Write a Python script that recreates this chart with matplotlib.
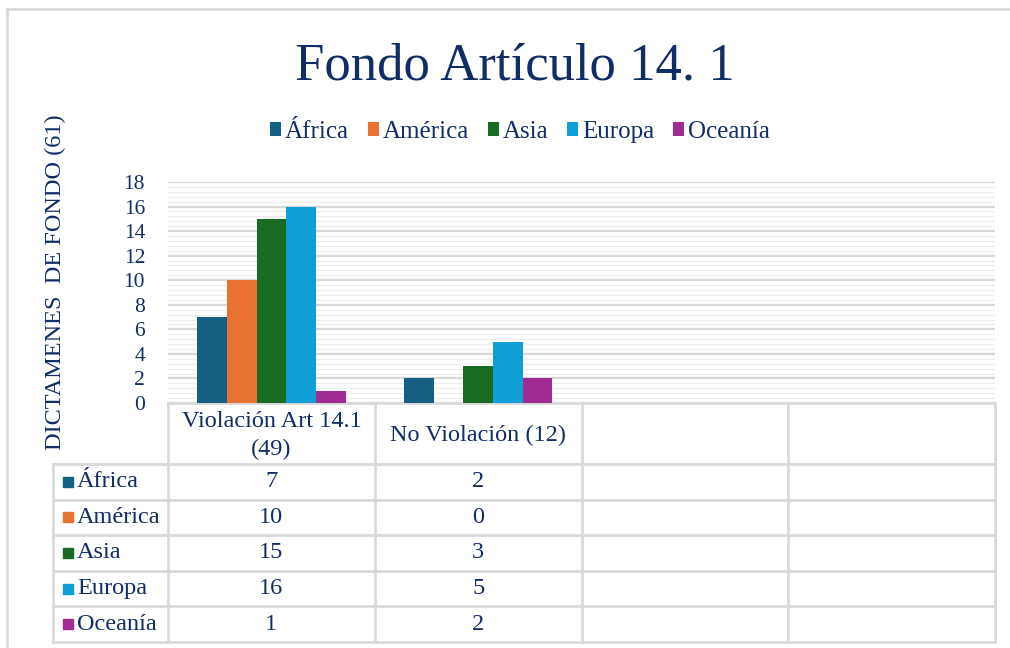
import textwrap
import numpy as np
import matplotlib.pyplot as plt
from matplotlib.ticker import MultipleLocator

## Data
categories = ["Violación Art 14.1 (49)", "No Violación (12)", "", ""]
regions = ["África", "América", "Asia", "Europa", "Oceanía"]
africa = [7, 2, None, None]
america = [10, 0, None, None]
asia = [15, 3, None, None]
europa = [16, 5, None, None]
oceania = [1, 2, None, None]
series = [africa, america, asia, europa, oceania]
colors = ["#156082", "#E97132", "#196B24", "#0F9ED5", "#A02B93"]

TXT = "#112D67"
GRID = "#D9D9D9"
plt.rcParams["font.family"] = ["Liberation Serif", "DejaVu Serif"]

W, H = 1010, 648
fig = plt.figure(figsize=(W / 100, H / 100), dpi=100)

# plot area in pixels
px_left, px_right, px_top, px_bottom = 168, 995, 182, 403
ax = fig.add_axes([px_left / W, 1 - px_bottom / H,
                   (px_right - px_left) / W, (px_bottom - px_top) / H])

n = len(categories)
x = np.arange(n)
bw = 0.1435
for i, (name, vals, c) in enumerate(zip(regions, series, colors)):
  v = np.array([np.nan if a is None else a for a in vals], dtype=float)
  ax.bar(x + (i - 2) * bw, v, width=bw, color=c, label=name, zorder=3)

ax.set_xlim(-0.5, n - 0.5)
ax.set_ylim(0, 18)
ax.set_yticks(np.arange(0, 19, 2))
ax.yaxis.set_minor_locator(MultipleLocator(0.4))
ax.set_xticks([])
ax.grid(which="major", axis="y", color=GRID, lw=1.6, zorder=1)
ax.grid(which="minor", axis="y", color="#EEEEEE", lw=1.0, zorder=0)
ax.set_axisbelow(True)
for s in ax.spines.values():
  s.set_visible(False)
ax.tick_params(axis="y", which="both", length=0, labelsize=15.5, labelcolor=TXT, pad=16.5)

## Title, axis label, legend
fig.text(515 / W, 1 - 80 / H, "Fondo Artículo 14. 1", ha="center", va="baseline",
         fontsize=38, color=TXT)
fig.text(55 / W, 1 - 282 / H, "DICTAMENES  DE FONDO (61)", rotation=90,
         ha="center", va="center", fontsize=17.5, color=TXT)
leg = fig.legend(loc="center", bbox_to_anchor=(520 / W, 1 - 132 / H), ncol=5,
                 fontsize=18, handlelength=0.45, handleheight=0.45, handletextpad=0.15,
                 columnspacing=0.75, frameon=False, labelcolor=TXT)

## Data table
tab = fig.add_axes([0, 0, 1, 1], zorder=-1)
tab.set_xlim(0, W)
tab.set_ylim(H, 0)
tab.axis("off")

tbl_left = 53
col_w = (px_right - px_left) / n
col_edges = [px_left + k * col_w for k in range(n + 1)]
head_bottom = 464
row_h = (642 - head_bottom) / len(regions)
row_edges = [head_bottom + k * row_h for k in range(len(regions) + 1)]
lkw = dict(color=GRID, lw=2, solid_capstyle="projecting")

tab.plot([px_left, px_right], [px_bottom, px_bottom], **lkw)
for y in row_edges:
  tab.plot([tbl_left, px_right], [y, y], **lkw)
tab.plot([tbl_left, tbl_left], [head_bottom, row_edges[-1]], **lkw)
for xe in col_edges:
  tab.plot([xe, xe], [px_bottom, row_edges[-1]], **lkw)

for k, cat in enumerate(categories):
  cx = (col_edges[k] + col_edges[k + 1]) / 2
  tab.text(cx, (px_bottom + head_bottom) / 2 + 2, "\n".join(textwrap.wrap(cat, 18)),
           ha="center", va="center", fontsize=17.5, color=TXT, linespacing=1.45)

for r, (name, vals, c) in enumerate(zip(regions, series, colors)):
  cy = (row_edges[r] + row_edges[r + 1]) / 2
  tab.add_patch(plt.Rectangle((63, cy - 5), 10, 10, color=c))
  tab.text(77, cy, name, ha="left", va="center", fontsize=17.5, color=TXT)
  for k, v in enumerate(vals):
    if v is None:
      continue
    cx = (col_edges[k] + col_edges[k + 1]) / 2
    tab.text(cx, cy, str(v), ha="center", va="center", fontsize=17.5, color=TXT)

# chart border
tab.plot([7, W], [9, 9], color=GRID, lw=2)
tab.plot([7, 7], [9, H], color=GRID, lw=2)

fig.savefig("out.png", dpi=100)
